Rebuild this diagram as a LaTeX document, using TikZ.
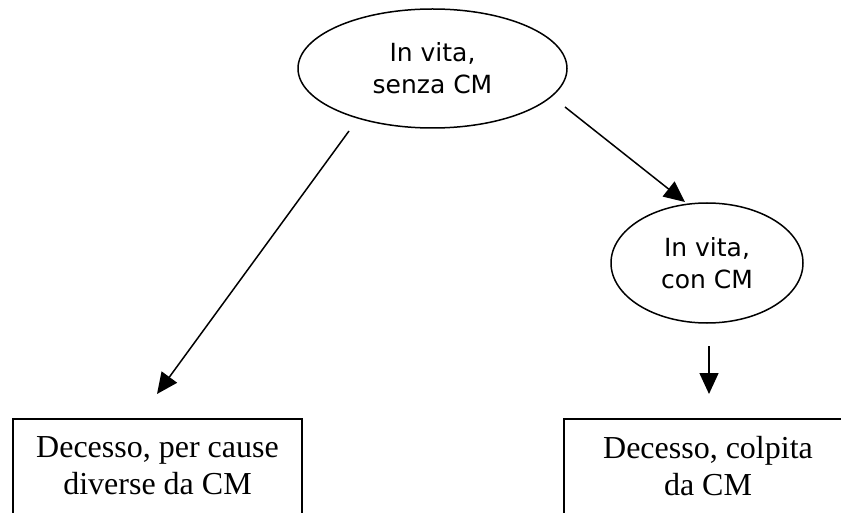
\documentclass[tikz,border=0pt]{standalone}
\usepackage{fontspec}
\usepackage{tikz}
\usetikzlibrary{shapes.geometric}
\usetikzlibrary{arrows.meta}
\newfontfamily\statofont{DejaVu Sans}
\newfontfamily\esitofont{Liberation Serif}

\begin{document}
\begin{tikzpicture}[x=1pt,y=-1pt,
        stato/.style={draw,ellipse,line width=1.5pt,inner sep=0pt,align=center,font=\statofont\fontsize{25}{32}\selectfont},
        esito/.style={inner sep=0pt,align=center,font=\esitofont\fontsize{32}{37}\selectfont},
        freccia/.style={line width=1.5pt,-{Triangle[length=21pt,width=19pt]}}]
        \useasboundingbox (0,0) rectangle (841,513);

        \node[stato,minimum width=269pt,minimum height=119pt] (sano) at (432.5,68.5) {In vita,\\senza CM};
        \node[stato,minimum width=192pt,minimum height=120pt] (malato) at (707,263) {In vita,\\con CM};

        % boxes run past the lower edge
        \draw[line width=1.7pt] (13,419) rectangle (302,560);
        \draw[line width=1.7pt] (564,419) rectangle (900,560);
        \node[esito] (morto) at (157.5,466) {Decesso, per cause\\diverse da CM};
        \node[esito] (mortocm) at (708,466) {Decesso, colpita\\da CM};

        \draw (349,131) coordinate (a);
        \draw (157,394) coordinate (b);
        \draw (565,107) coordinate (c);
        \draw (685,202) coordinate (d);
        \draw (709,346) coordinate (e);
        \draw (709,394) coordinate (f);

        \draw[freccia] (a)--(b);
        \draw[freccia] (c)--(d);
        \draw[freccia] (e)--(f);
    \end{tikzpicture}
\end{document}
